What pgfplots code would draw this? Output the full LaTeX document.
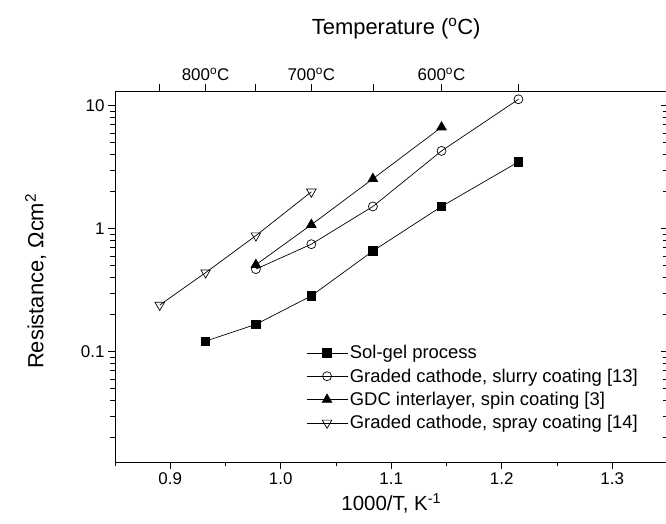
\documentclass[border=0pt]{standalone}
\usepackage{fontspec}
\setmainfont{Liberation Sans}
\usepackage{pgfplots}
\pgfplotsset{compat=1.18}
\pgfplotsset{
  legend image code/.code={\draw[mark repeat=2,mark phase=2,#1] plot coordinates {(0bp,0bp) (20.5bp,0bp) (41bp,0bp)};},
}
\pgfplotstableread{
x y
0.9320 0.122
0.9775 0.167
1.0277 0.285
1.0834 0.66
1.1455 1.52
1.2151 3.5
}\solgel
\pgfplotstableread{
x y
0.9775 0.47
1.0277 0.75
1.0834 1.52
1.1455 4.3
1.2151 11.3
}\slurry
\pgfplotstableread{
x y
0.9775 0.51
1.0277 1.08
1.0834 2.55
1.1455 6.7
}\spin
\pgfplotstableread{
x y
0.8905 0.24
0.9320 0.44
0.9775 0.88
1.0277 2.0
}\spray
\begin{document}
\begin{tikzpicture}
\begin{axis}[width=552.5bp, height=371bp, scale only axis,
  xmin=0.85, xmax=1.35, ymode=log, ymin=0.0127, ymax=13.2,
  /pgf/number format/assume math mode=true,
  major tick length=7bp, minor tick length=4.5bp,
  tick style={black, line width=0.8pt},
  tick label style={font=\fontsize{17}{20}\selectfont},
  axis line style={line width=0.9pt},
  at={(0,0)}, anchor=south west,
  minor ytick={0.02,0.03,0.04,0.05,0.06,0.07,0.08,0.09,0.2,0.3,0.4,0.5,0.6,0.7,0.8,0.9,2,3,4,5,6,7,8,9},
  xtick={0.9,1.0,1.1,1.2,1.3}, xticklabels={0.9,1.0,1.1,1.2,1.3},
  minor xtick={0.85,0.95,1.05,1.15,1.25,1.35},
  ytick={0.1,1,10}, yticklabels={0.1,1,10},
  xtick pos=bottom, ytick pos=left, tick align=outside,
  xlabel={1000/T, K\textsuperscript{-1}},
  ylabel={Resistance, Ωcm\textsuperscript{2}},
  x label style={at={(axis description cs:0.5,-0.132)}, anchor=base, font=\fontsize{20.5}{24}\selectfont},
  y label style={at={(axis description cs:-0.1298,0.487)}, anchor=base, font=\fontsize{22}{26}\selectfont},
  legend style={draw=none, fill=none, at={(axis description cs:0.3457,0.32)}, anchor=north west,
    font=\fontsize{18.5}{22}\selectfont, row sep=4.5bp, inner sep=0pt, cells={anchor=west}},
]
\addplot[black, line width=0.7pt, mark=square*, mark size=4.2bp, mark options={solid, fill=black}] table[x=x,y=y] {\solgel};
\addlegendentry{Sol-gel process}
\addplot[black, line width=0.7pt, mark=o, mark size=4.5bp, mark options={solid, fill=white}] table[x=x,y=y] {\slurry};
\addlegendentry{Graded cathode, slurry coating [13]}
\addplot[black, line width=0.7pt, mark=triangle*, mark size=5.5bp, mark options={solid, fill=black}] table[x=x,y=y] {\spin};
\addlegendentry{GDC interlayer, spin coating [3]}
\addplot[black, line width=0.7pt, mark=triangle, mark size=5.5bp, mark options={solid, fill=white, rotate=180}] table[x=x,y=y] {\spray};
\addlegendentry{Graded cathode, spray coating [14]}
\end{axis}
\begin{axis}[width=552.5bp, height=371bp, scale only axis,
  xmin=0.85, xmax=1.35, ymin=0.0127, ymax=13.2,
  at={(0,0)}, anchor=south west,
  major tick length=7bp,
  tick style={black, line width=0.8pt},
  tick label style={font=\fontsize{17}{20}\selectfont},
  axis line style={line width=0.9pt},
  axis x line*=top, axis y line=none, tick align=outside,
  xtick={0.8905,0.9320,0.9775,1.0277,1.0834,1.1455,1.2151},
  xticklabels={,800\textsuperscript{o}C,,700\textsuperscript{o}C,,600\textsuperscript{o}C,},
  ytick=\empty,
  xlabel={Temperature (\textsuperscript{o}C)},
  x label style={at={(axis description cs:0.509,1.1536)}, anchor=base, font=\fontsize{22}{26}\selectfont},
]
\addplot[draw=none] coordinates {(1,1)};
\end{axis}
\begin{axis}[width=552.5bp, height=371bp, scale only axis,
  xmin=0.85, xmax=1.35, ymode=log, ymin=0.0127, ymax=13.2,
  at={(0,0)}, anchor=south west,
  major tick length=7bp, minor tick length=4.5bp,
  tick style={black, line width=0.8pt},
  axis line style={line width=0.9pt},
  axis y line*=right, axis x line=none, tick align=inside,
  minor ytick={0.02,0.03,0.04,0.05,0.06,0.07,0.08,0.09,0.2,0.3,0.4,0.5,0.6,0.7,0.8,0.9,2,3,4,5,6,7,8,9},
  ytick={0.1,1,10}, yticklabels={}, xtick=\empty,
]
\addplot[draw=none] coordinates {(1,1)};
\end{axis}
\pgfresetboundingbox
\path (-115bp,-62bp) rectangle (551bp,462bp);
\end{tikzpicture}
\end{document}
